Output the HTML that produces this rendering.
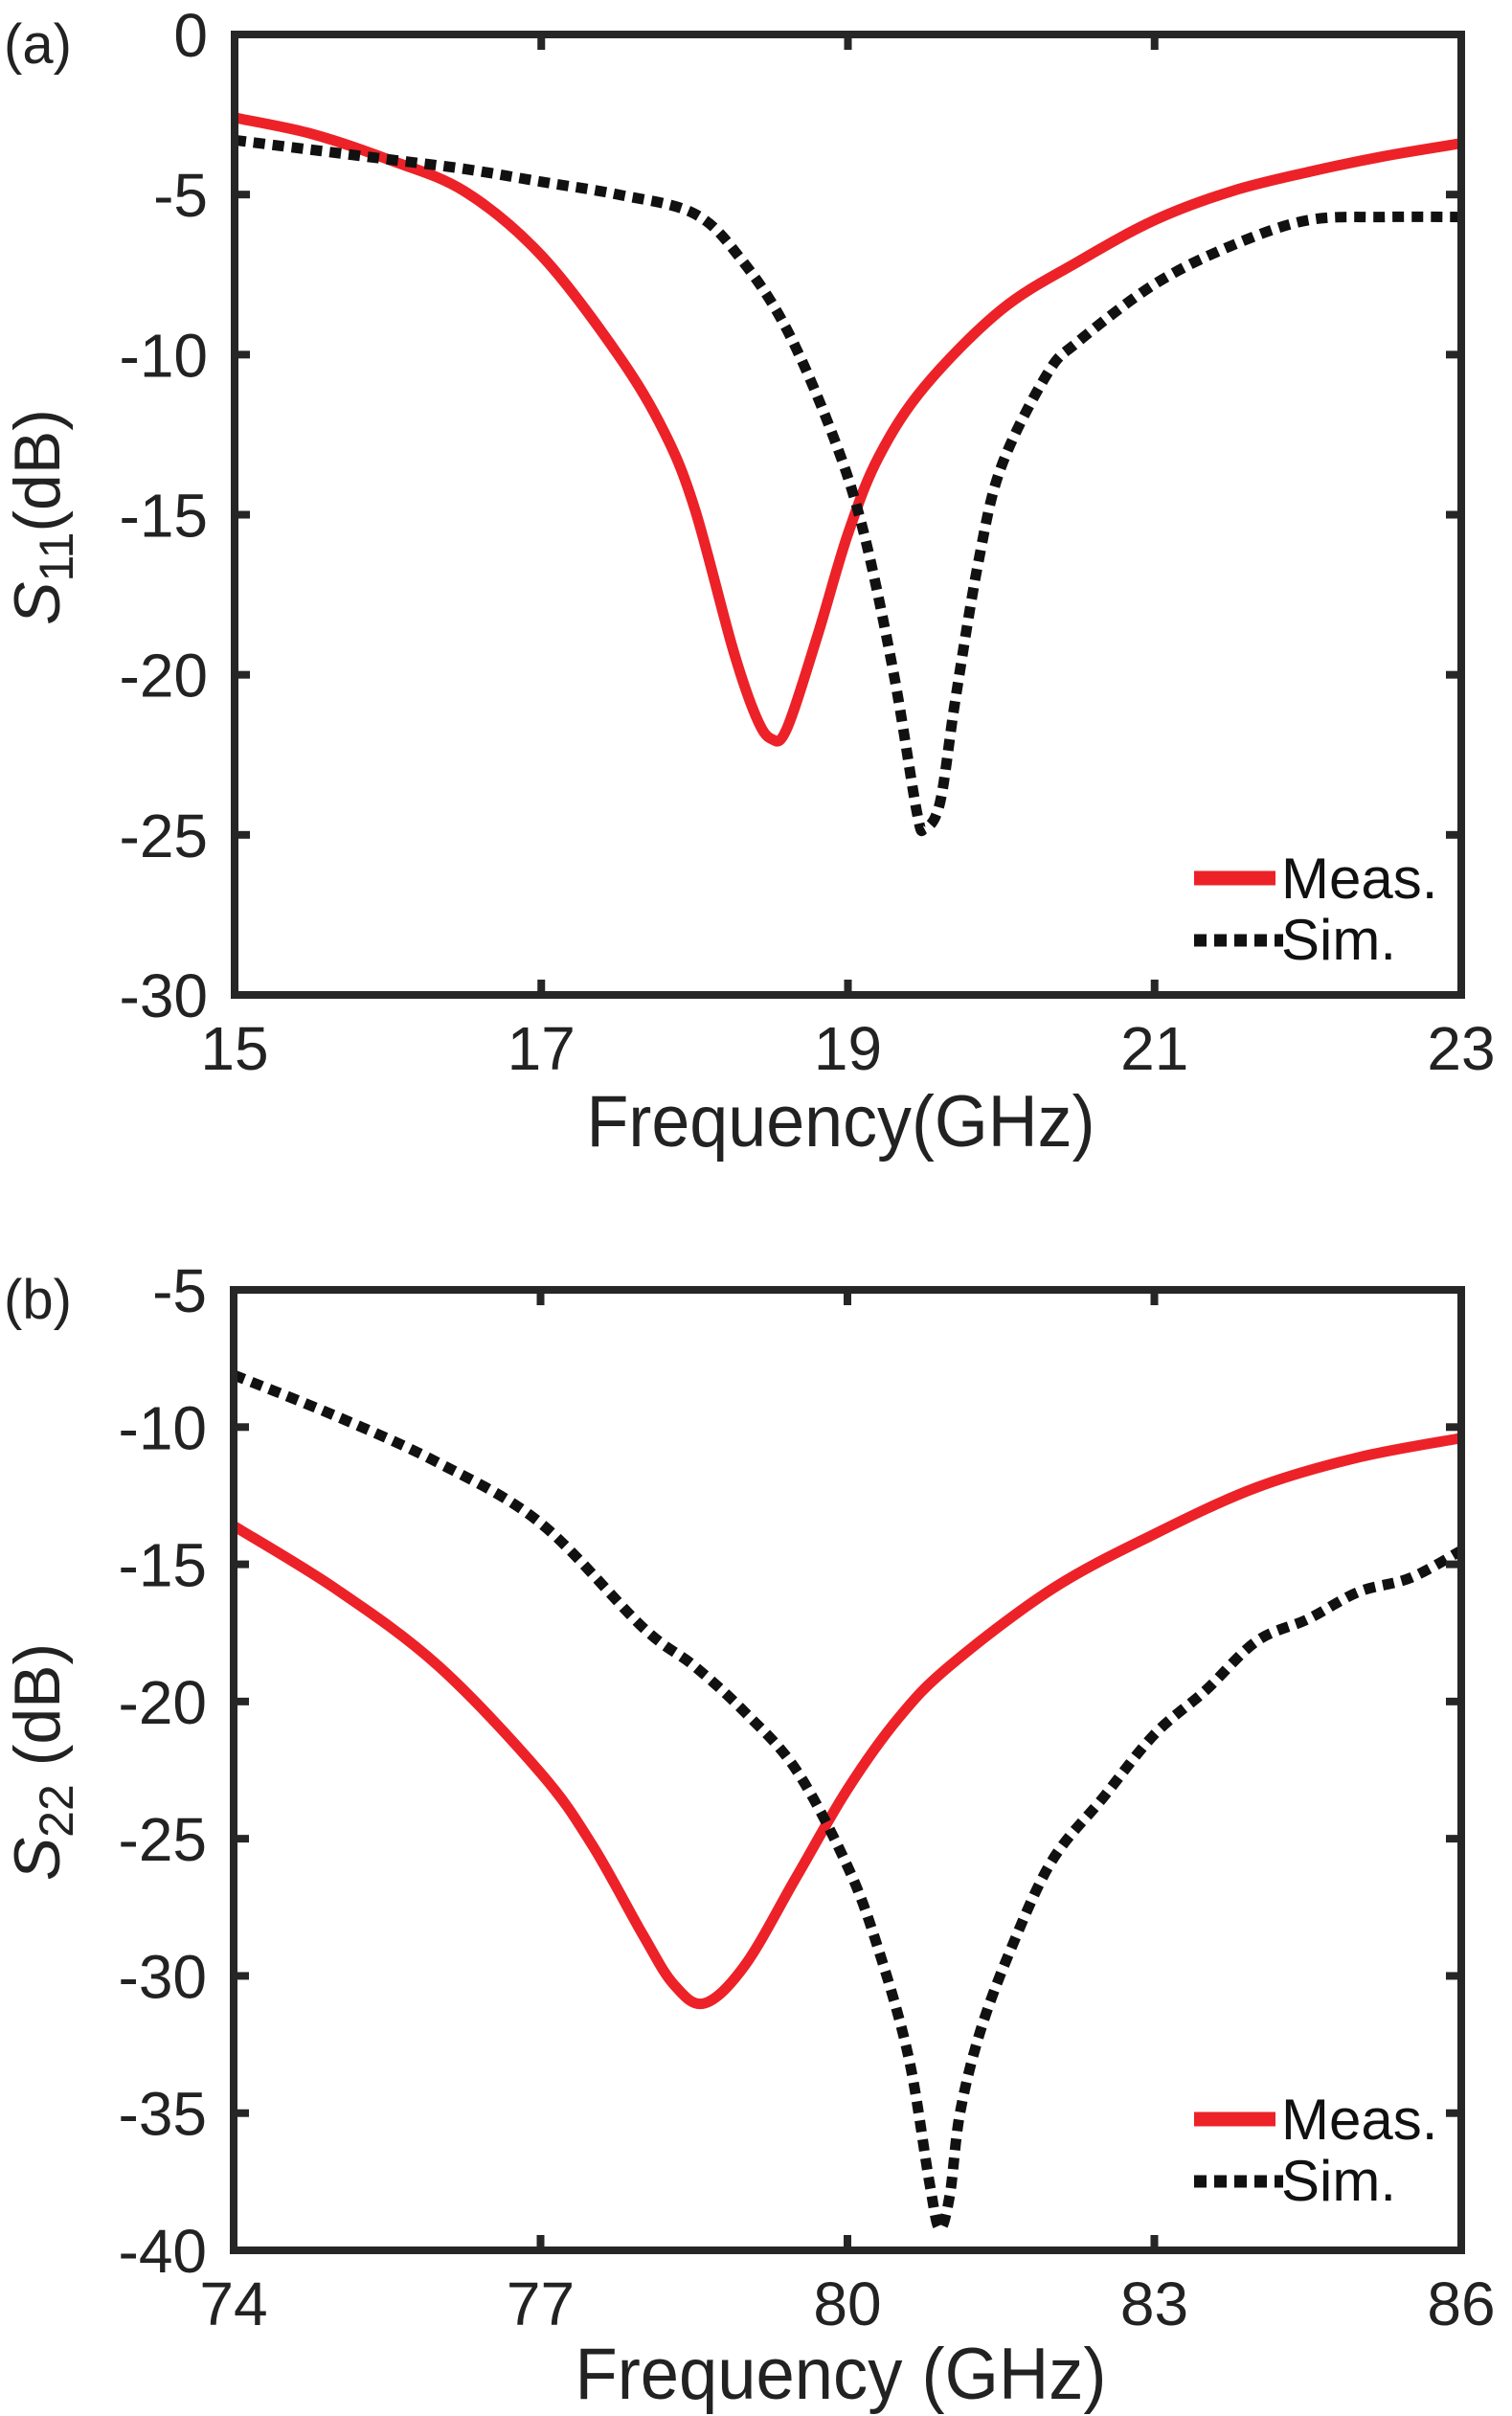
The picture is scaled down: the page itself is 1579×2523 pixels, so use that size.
<!DOCTYPE html>
<html><head><meta charset="utf-8"><style>
html,body{margin:0;padding:0;background:#fff;}
svg{display:block;font-family:"Liberation Sans",sans-serif;}
</style></head><body>
<svg id="fig" width="1579" height="2523" viewBox="0 0 1579 2523"></svg>
<script>
// Panel (a) data
const aFreq = [15,15.5,16,16.5,17,17.5,17.8,18,18.25,18.4,18.5,18.6,18.8,19,19.2,19.5,20,20.5,21,21.5,22,22.5,23];
const aMeas = [-2.6,-3.1,-3.9,-4.9,-6.9,-10,-12.4,-14.8,-19.2,-21.3,-22,-21.7,-18.8,-15.6,-13.2,-11,-8.6,-7.1,-5.8,-4.9,-4.3,-3.8,-3.4];
const aSimFreq = [15,15.5,16,16.5,17,17.5,18,18.3,18.6,18.9,19.1,19.3,19.45,19.5,19.6,19.7,19.85,20,20.3,20.5,21,21.5,22,22.5,23];
const aSim = [-3.3,-3.6,-3.9,-4.2,-4.6,-5.0,-5.6,-7,-9.2,-12.5,-15.5,-20,-24.3,-24.8,-24,-20.8,-16.5,-13.5,-10.6,-9.6,-7.8,-6.6,-5.8,-5.7,-5.7];
const aXTicks = [15,17,19,21,23];
const aYTicks = [0,-5,-10,-15,-20,-25,-30];
// Panel (b) data
const bFreq = [74,75,76,77,77.5,78,78.3,78.6,79,79.5,80,80.5,81,82,83,84,85,86];
const bMeas = [-13.6,-15.9,-18.7,-22.6,-25.2,-28.5,-30.3,-31,-29.6,-26.4,-23.2,-20.6,-18.7,-15.9,-13.9,-12.2,-11.1,-10.4];
const bSimFreq = [74,75,76,77,78,78.5,79,79.5,80,80.3,80.6,80.8,80.9,81,81.1,81.3,81.6,82,82.5,83,83.5,84,84.5,85,85.5,86];
const bSim = [-8.1,-9.6,-11.3,-13.5,-17.3,-18.7,-20.4,-22.5,-26,-29,-33,-37.5,-39.2,-38,-35,-32,-29,-25.8,-23.5,-21.2,-19.6,-17.8,-17,-16,-15.5,-14.5];
const bXTicks = [74,77,80,83,86];
const bYTicks = [-5,-10,-15,-20,-25,-30,-35,-40];

const NS="http://www.w3.org/2000/svg";
const svg=document.getElementById('fig');
function mk(tag,attrs,parent){const e=document.createElementNS(NS,tag);for(const k in attrs)e.setAttribute(k,attrs[k]);(parent||svg).appendChild(e);return e;}
function smooth(p){
  let d='M'+p[0][0]+','+p[0][1];
  for(let i=0;i<p.length-1;i++){
    const p0=p[i-1]||p[i],p1=p[i],p2=p[i+1],p3=p[i+2]||p2;
    const c1=[p1[0]+(p2[0]-p0[0])/6,p1[1]+(p2[1]-p0[1])/6];
    const c2=[p2[0]-(p3[0]-p1[0])/6,p2[1]-(p3[1]-p1[1])/6];
    d+=' C'+c1+' '+c2+' '+p2;
  }
  return d;
}

function panel(o){
  const g=mk('g',{});
  
  
  const L=o.L,R=o.R,T=o.T,B=o.B;
  const sx=v=>L+(v-o.x0)/(o.x1-o.x0)*(R-L);
  const sy=v=>T+(o.y0-v)/(o.y0-o.y1)*(B-T);
  const m=mk('path',{d:smooth(o.mf.map((f,i)=>[sx(f),sy(o.mv[i])])),fill:'none',stroke:'#ec2228','stroke-width':11,'stroke-linejoin':'round'},g);
  
  
  const s=mk('path',{d:smooth(o.sf.map((f,i)=>[sx(f),sy(o.sv[i])])),fill:'none',stroke:'#111','stroke-width':11,'stroke-dasharray':'12 8'},g);
  
  
  const box=mk('rect',{x:L,y:T,width:R-L,height:B-T,fill:'none',stroke:'#262626','stroke-width':8},g);
  
  
  o.xt.forEach(v=>{
    mk('line',{x1:sx(v),x2:sx(v),y1:B,y2:B-16,stroke:'#262626','stroke-width':8},g);
    mk('line',{x1:sx(v),x2:sx(v),y1:T,y2:T+16,stroke:'#262626','stroke-width':8},g);
    const t=mk('text',{x:sx(v),y:B+78,'font-size':64,'text-anchor':'middle',fill:'#222'},g);
    t.textContent=v;
    
    
  });
  o.yt.forEach(v=>{
    mk('line',{x1:L,x2:L+16,y1:sy(v),y2:sy(v),stroke:'#262626','stroke-width':8},g);
    mk('line',{x1:R,x2:R-16,y1:sy(v),y2:sy(v),stroke:'#262626','stroke-width':8},g);
    const t=mk('text',{x:L-28,y:sy(v)+23,'font-size':64,'text-anchor':'end',fill:'#222'},g);
    t.textContent=v;
    
    
  });
  const xt=mk('text',{x:878,y:B+o.xty,'font-size':76,'text-anchor':'middle',fill:'#222',textLength:o.xtw,lengthAdjust:'spacingAndGlyphs'},g);
  xt.textContent=o.xtitle;
  
  
  const yt=mk('text',{transform:`translate(62,${o.ytc}) rotate(-90)`,'font-size':68,'text-anchor':'middle',fill:'#222'},g);
  yt.innerHTML=`<tspan font-style="italic">S</tspan><tspan font-size="50" dy="14">${o.sub}</tspan><tspan dy="-14">${o.ysuffix}</tspan>`;
  
  
  const lab=mk('text',{x:4,y:T+30,'font-size':58,fill:'#222'},g);
  lab.textContent=o.label;
  
  
  const lg=mk('g',{},g);
  
  
  mk('line',{x1:1247,x2:1332,y1:o.legY,y2:o.legY,stroke:'#ec2228','stroke-width':15},lg);
  mk('line',{x1:1247,x2:1340,y1:o.legY+65,y2:o.legY+65,stroke:'#111','stroke-width':13,'stroke-dasharray':'13 8'},lg);
  const t1=mk('text',{x:1338,y:o.legY+21,'font-size':60,fill:'#111'},lg);t1.textContent='Meas.';
  
  
  const t2=mk('text',{x:1338,y:o.legY+85,'font-size':60,fill:'#111'},lg);t2.textContent='Sim.';
  
  
}
panel({name:'panel-a-s11',L:245,R:1526,T:36,B:1039,x0:15,x1:23,y0:0,y1:-30,mf:aFreq,mv:aMeas,sf:aSimFreq,sv:aSim,xt:aXTicks,yt:aYTicks,xtitle:'Frequency(GHz)',xtw:531,xty:158,sub:'11',ysuffix:'(dB)',ytc:540,label:'(a)',legY:917});
panel({name:'panel-b-s22',L:244,R:1526,T:1347,B:2350,x0:74,x1:86,y0:-5,y1:-40,mf:bFreq,mv:bMeas,sf:bSimFreq,sv:bSim,xt:bXTicks,yt:bYTicks,xtitle:'Frequency (GHz)',xtw:555,xty:155,sub:'22',ysuffix:' (dB)',ytc:1840,label:'(b)',legY:2213});
</script>
</body></html>
